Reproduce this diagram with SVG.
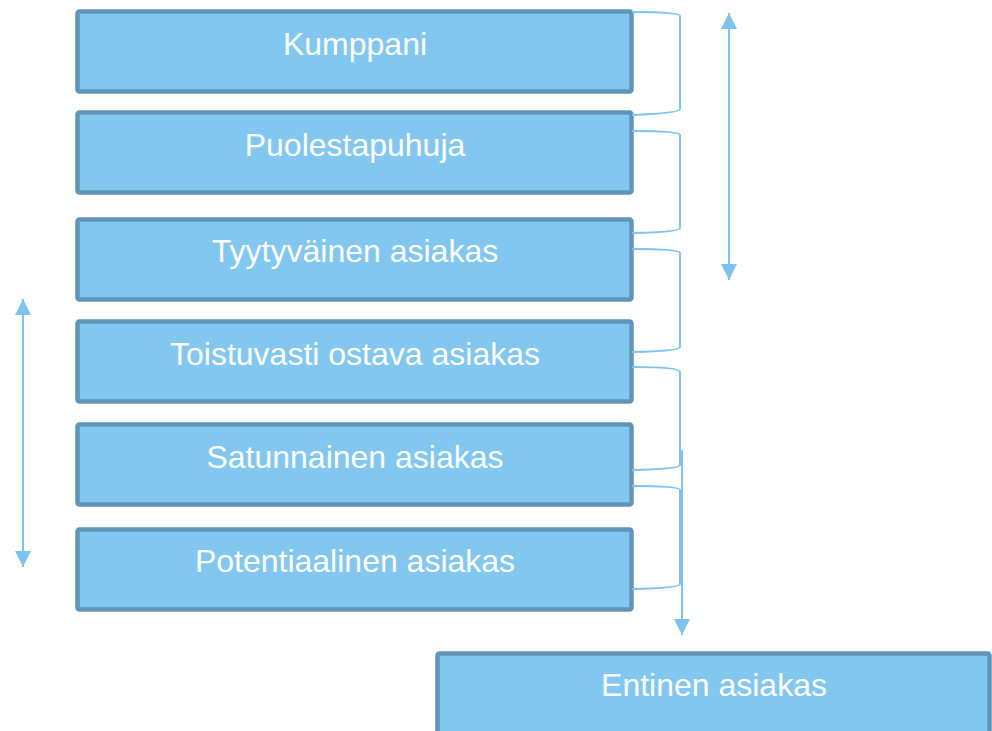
<svg xmlns="http://www.w3.org/2000/svg" width="992" height="731" viewBox="0 0 992 731">
<style>
.box{fill:#82c7f0;stroke:#6095b7;stroke-width:4.5}
.lbl{font-family:"Liberation Sans",Arial,sans-serif;font-size:32px;fill:#ffffff;text-anchor:middle}
.con{fill:none;stroke:#7dc3ed;stroke-width:2}
</style>
<defs>
<marker id="ah2" viewBox="0 0 16 16" refX="16" refY="8" markerWidth="16" markerHeight="16" markerUnits="userSpaceOnUse" orient="auto-start-reverse">
<path d="M0,0 L16,8 L0,16 z" fill="#7dc3ed"/>
</marker>
</defs>
<rect width="992" height="731" fill="#ffffff"/>
<g id="n1"><rect class="box" x="77.5" y="11.5" width="554" height="80" rx="2"/><text class="lbl" x="355" y="55">Kumppani</text></g>
<g id="n2"><rect class="box" x="77.5" y="112.5" width="554" height="80" rx="2"/><text class="lbl" x="355" y="156">Puolestapuhuja</text></g>
<g id="n3"><rect class="box" x="77.5" y="219.5" width="554" height="80" rx="2"/><text class="lbl" x="355" y="262">Tyytyväinen asiakas</text></g>
<g id="n4"><rect class="box" x="77.5" y="321.5" width="554" height="80" rx="2"/><text class="lbl" x="355" y="365">Toistuvasti ostava asiakas</text></g>
<g id="n5"><rect class="box" x="77.5" y="424.5" width="554" height="80" rx="2"/><text class="lbl" x="355" y="468">Satunnainen asiakas</text></g>
<g id="n6"><rect class="box" x="77.5" y="529.5" width="554" height="80" rx="2"/><text class="lbl" x="355" y="572">Potentiaalinen asiakas</text></g>
<g id="n7"><rect class="box" x="437.5" y="653.5" width="552" height="90" rx="2"/><text class="lbl" x="714" y="696">Entinen asiakas</text></g>
<g id="connectors">
<path class="con" d="M632,12 Q680,12 680,16 V109 Q680,113 632,115"/>
<path class="con" d="M632,131 Q680,131 680,135 V228 Q680,232 632,233"/>
<path class="con" d="M632,249 Q680,249 680,253 V347 Q680,351 632,352"/>
<path class="con" d="M632,367 Q680,367 680,372 V465 Q680,469 632,470"/>
<path class="con" d="M632,486 Q680,486 680,490 V584 Q680,588 632,589"/>
<line class="con" x1="682" y1="450" x2="682" y2="635" marker-end="url(#ah2)"/>
<line class="con" x1="729" y1="13" x2="729" y2="280" marker-start="url(#ah2)" marker-end="url(#ah2)"/>
<line class="con" x1="23" y1="299" x2="23" y2="567" marker-start="url(#ah2)" marker-end="url(#ah2)"/>
</g>
</svg>
